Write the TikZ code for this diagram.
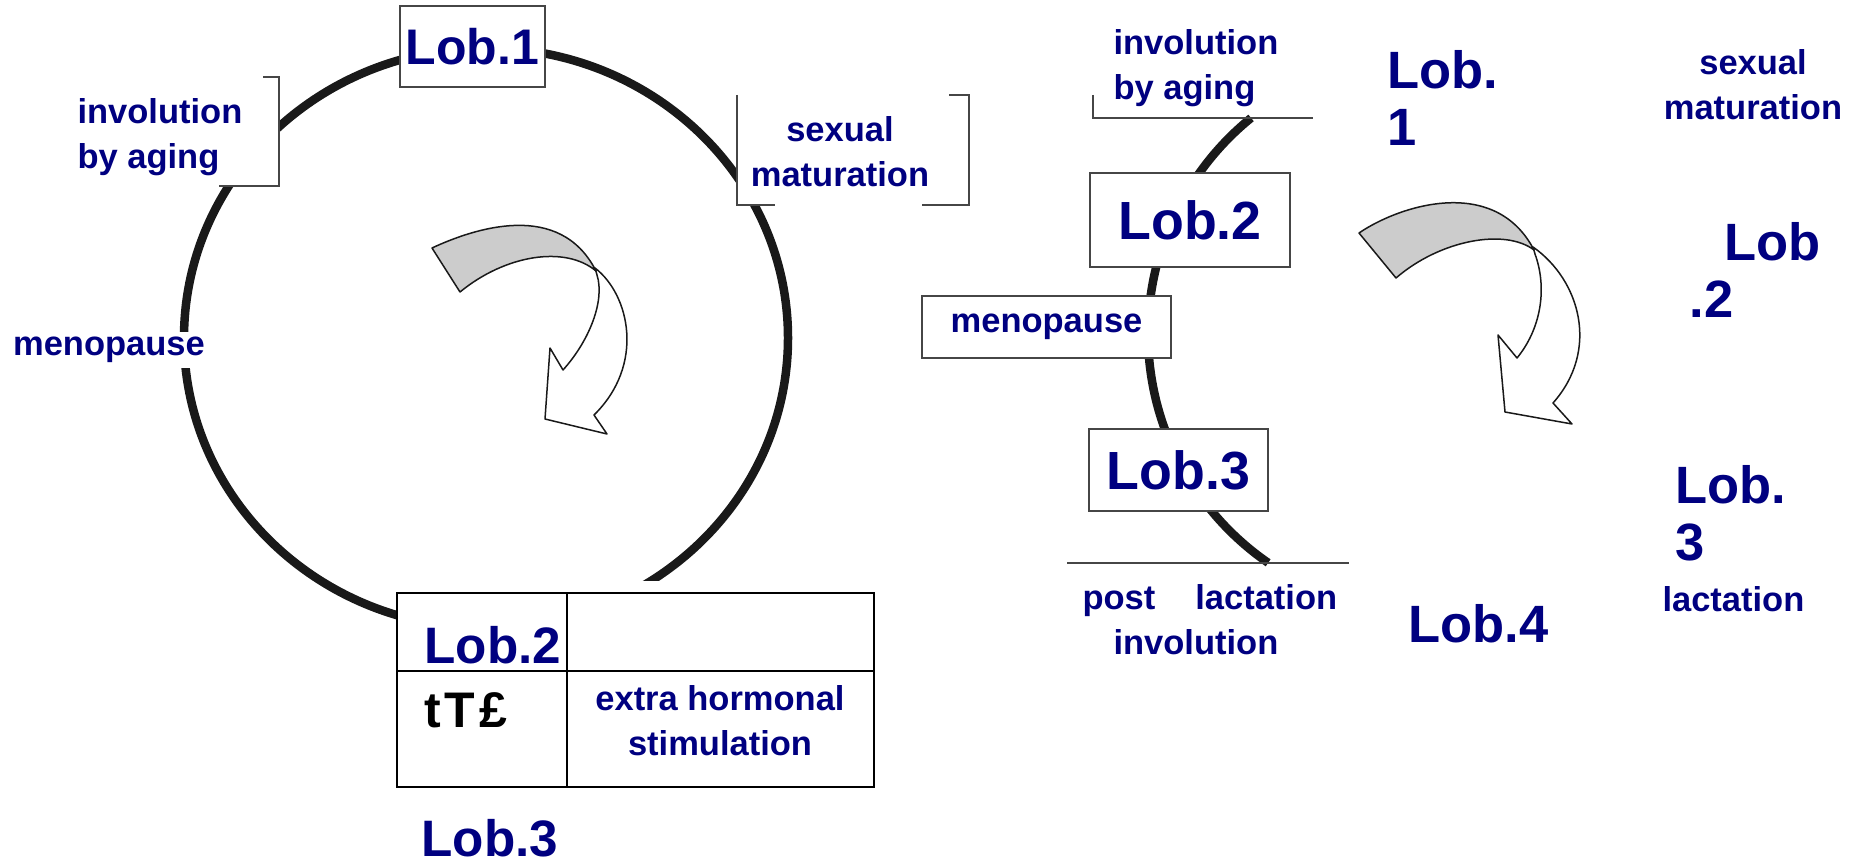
\documentclass[tikz,border=0pt]{standalone}
\usepackage{fontspec}
\setmainfont{Liberation Sans}
\usetikzlibrary{calc}

\definecolor{navy}{RGB}{0,0,128}
\definecolor{ringgray}{RGB}{25,25,25}
\definecolor{edgegray}{RGB}{70,70,70}
\definecolor{bandgray}{RGB}{204,204,204}

\begin{document}
\begin{tikzpicture}[x=0.4pt, y=-0.4pt,
    lbl/.style={text=navy, font=\fontsize{13.8}{18}\selectfont\bfseries, inner sep=0pt},
    biglob/.style={text=navy, font=\fontsize{21}{22.8}\selectfont\bfseries, inner sep=0pt, align=left},
    lobbox/.style={draw=edgegray, fill=white, line width=0.8pt, text=navy, font=\fontsize{21.5}{24}\selectfont\bfseries, inner sep=0pt},
    ring/.style={line width=3.4pt, ringgray},
    bracket/.style={line width=1pt, edgegray},
    twist/.style={draw=ringgray, line width=0.6pt, line join=round}]
    \useasboundingbox (0,0) rectangle (1859,865);

    % left cycle
    \draw[ring] (486,338) ellipse [x radius=302, y radius=290];

    \fill[white] (71,77) rectangle (279,186);
    \draw[bracket] (263,77) -- (279,77) -- (279,186) -- (219,186);
    \fill[white] (737,95) rectangle (970,205);
    \draw[bracket] (737,95) -- (737,205) -- (775,205);
    \draw[bracket] (949,95) -- (969,95) -- (969,205) -- (922,205);

    \node[lbl, align=left, anchor=west] (agingL) at (77,137) {involution\\by aging};
    \node[lbl, align=center] (matL) at (840,152) {sexual\\maturation};
    \node[lbl, fill=white, inner sep=2pt] (menoL) at (109,350) {menopause};
    \node[lobbox, minimum width=58pt, minimum height=32.4pt, font=\fontsize{20}{24}\selectfont\bfseries] (loboneL) at (472.5,46.5) {Lob.1};

    \draw[twist, fill=white] (595,268) .. controls (630,295) and (645,365) .. (594,415) -- (607,434) -- (545,419) -- (550,348) -- (563,370) .. controls (590,340) and (605,300) .. (597,275) -- cycle;
    \draw[twist, fill=bandgray] (432,248) .. controls (475,228) and (560,200) .. (596,271) .. controls (565,245) and (505,255) .. (460,292) -- cycle;

    \fill[white] (397,581) rectangle (877,790);
    \draw[line width=1pt] (397,593) rectangle (874,787);
    \draw[line width=1pt] (567,593) -- (567,787);
    \draw[line width=1pt] (397,671) -- (874,671);
    \node[lbl, font=\fontsize{20.5}{22}\selectfont\bfseries, anchor=base west] (cellA) at (424,663) {Lob.2};
    \node[font=\fontsize{20}{22}\selectfont\bfseries, anchor=base west, inner sep=0pt] (cellB) at (424,727) {t\kern1.5pt T\kern1.5pt £};
    \node[lbl, align=center] (cellC) at (720,721) {extra hormonal\\stimulation};
    \node[lbl, font=\fontsize{20.5}{22}\selectfont\bfseries, anchor=base west] (lobthreeL) at (421,856) {Lob.3};

    % right stages
    \draw[ring] (1426,334) ++(124.6:278) arc[start angle=124.6, end angle=231, radius=278];
    \draw[bracket] (1093,95) -- (1093,118) -- (1313,118);
    \draw[bracket] (1067,563) -- (1349,563);
    \node[lobbox, minimum width=80pt, minimum height=37.6pt] (lobtwoR) at (1190,220) {Lob.2};
    \node[lobbox, minimum width=99.6pt, minimum height=24.8pt, font=\fontsize{13.8}{16}\selectfont\bfseries] (menoR) at (1046.5,327) {menopause};
    \node[lobbox, minimum width=71.6pt, minimum height=32.8pt] (lobthreeR) at (1178.5,470) {Lob.3};

    \node[lbl, align=left, anchor=west] (agingR) at (1113,68) {involution\\by aging};
    \node[lbl, align=left, anchor=west] (postR) at (1082,620) {post\hspace{16pt}lactation\\\hspace*{12.4pt}involution};

    \draw[twist, fill=white] (1533,247) .. controls (1580,280) and (1600,350) .. (1553,403) -- (1572,424) -- (1505,412) -- (1498,335) -- (1517,358) .. controls (1540,330) and (1548,290) .. (1535,254) -- cycle;
    \draw[twist, fill=bandgray] (1359,233) .. controls (1400,205) and (1495,175) .. (1534,250) .. controls (1505,228) and (1440,240) .. (1396,278) -- cycle;

    \node[biglob, anchor=west] (loboneR) at (1387,98) {Lob.\\1};
    \node[lbl, align=center] (matR) at (1753,85) {sexual\\maturation};
    \node[biglob, anchor=west] (lobtwoX) at (1689,270) {\hspace*{14pt}Lob\\.2};
    \node[biglob, anchor=west] (lobthreeX) at (1675,513) {Lob.\\3};
    \node[lbl, anchor=base west] (lactX) at (1662,611) {lactation};
    \node[biglob, anchor=base west] (lobfourR) at (1408,642) {Lob.4};
\end{tikzpicture}
\end{document}
